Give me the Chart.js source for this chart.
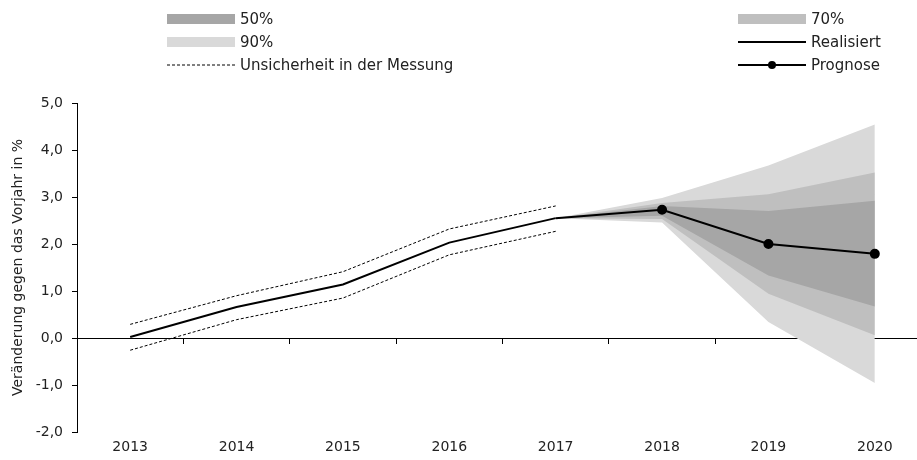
<!DOCTYPE html>
<html>
<head>
<meta charset="utf-8">
<script src="https://cdn.jsdelivr.net/npm/chart.js@4.4.1/dist/chart.umd.min.js"></script>
<style>
  html, body { margin: 0; padding: 0; overflow: hidden; background: #fff; }
  #wrap { position: relative; width: 934px; height: 460px; }
  #legend { position: absolute; left: 0; top: 0; width: 917px; height: 80px;
            font: 15px "DejaVu Sans", sans-serif; color: #222; }
  .item { position: absolute; display: flex; align-items: center; height: 20px; white-space: nowrap; }
  .item svg { margin-right: 5px; display: block; }
</style>
</head>
<body>
<div id="wrap">
  <canvas id="chart"></canvas>
  <div id="legend"></div>
</div>
<script>
const years = ['2013', '2014', '2015', '2016', '2017', '2018', '2019', '2020'];

// realised growth and measurement uncertainty
const realisiert   = [0.02, 0.66, 1.14, 2.03, 2.55, null, null, null];
const messungOben  = [0.29, 0.90, 1.41, 2.32, 2.81, null, null, null];
const messungUnten = [-0.26, 0.39, 0.85, 1.77, 2.27, null, null, null];

// forecast and fan bands
const prognose    = [null, null, null, null, 2.55, 2.73, 2.00, 1.79];
const band50Oben  = [null, null, null, null, 2.55, 2.81, 2.70, 2.92];
const band50Unten = [null, null, null, null, 2.55, 2.60, 1.33, 0.67];
const band70Oben  = [null, null, null, null, 2.55, 2.87, 3.06, 3.52];
const band70Unten = [null, null, null, null, 2.55, 2.53, 0.94, 0.06];
const band90Oben  = [null, null, null, null, 2.55, 2.98, 3.67, 4.54];
const band90Unten = [null, null, null, null, 2.55, 2.46, 0.34, -0.96];

const yTicks = [-2, -1, 0, 1, 2, 3, 4, 5];

const legendOrder = ['50%', '70%', '90%', 'Realisiert', 'Unsicherheit in der Messung', 'Prognose'];

const FONT = '"DejaVu Sans", sans-serif';
const INK = '#222';

function band(label, data, color, fill) {
  return {
    label: label, data: data, backgroundColor: color, borderColor: color,
    borderWidth: 0, pointRadius: 0, fill: fill, tension: 0, isBand: true
  };
}

const datasets = [
  {
    label: 'Prognose', data: prognose, borderColor: '#000', backgroundColor: '#000',
    borderWidth: 2, pointRadius: [0, 0, 0, 0, 0, 4, 4, 4], pointHoverRadius: 4,
    pointBackgroundColor: '#000', fill: false
  },
  {
    label: 'Realisiert', data: realisiert, borderColor: '#000',
    borderWidth: 2, pointRadius: 0, fill: false
  },
  {
    label: 'Unsicherheit in der Messung', data: messungOben, borderColor: '#000',
    borderWidth: 1, borderDash: [3, 2], pointRadius: 0, fill: false
  },
  {
    label: '', data: messungUnten, borderColor: '#000',
    borderWidth: 1, borderDash: [3, 2], pointRadius: 0, fill: false
  },
  band('50%', band50Oben, '#a6a6a6', '+1'),
  band('', band50Unten, '#a6a6a6', false),
  band('70%', band70Oben, '#bfbfbf', '+1'),
  band('', band70Unten, '#bfbfbf', false),
  band('90%', band90Oben, '#d9d9d9', '+1'),
  band('', band90Unten, '#d9d9d9', false)
];

const chart = new Chart(document.getElementById('chart'), {
  type: 'line',
  data: { labels: years, datasets: datasets },
  options: {
    responsive: true,
    maintainAspectRatio: false,
    animation: false,
    layout: { padding: { top: 103, bottom: 0, left: 0, right: 0 } },
    plugins: {
      legend: { display: false },
      tooltip: { enabled: false },
      title: { display: false }
    },
    scales: {
      x: {
        type: 'category',
        offset: true,
        afterFit: s => { s.height = 28; },
        grid: { display: false, drawTicks: false },
        border: { display: false },
        ticks: { color: INK, font: { family: FONT, size: 14 }, padding: 7, maxRotation: 0 }
      },
      xNull: {
        type: 'category',
        axis: 'x',
        labels: years,
        offset: true,
        position: { y: 0 },
        afterFit: s => { s.height = 0; },
        grid: { offset: true, drawOnChartArea: false, drawTicks: true, tickLength: 5, color: '#000', lineWidth: 1 },
        border: { display: true, color: '#000', width: 1 },
        ticks: { display: false }
      },
      y: {
        min: -2,
        max: 5,
        afterBuildTicks: s => { s.ticks = yTicks.map(v => ({ value: v })); },
        afterFit: s => { s.width = 77; },
        grid: { drawOnChartArea: false, drawTicks: true, tickLength: 5, color: '#000' },
        border: { display: true, color: '#000', width: 1 },
        ticks: {
          color: INK, font: { family: FONT, size: 14 }, padding: 9,
          callback: v => v.toFixed(1).replace('.', ',')
        },
        title: {
          display: true, text: 'Veränderung gegen das Vorjahr in %',
          color: INK, font: { family: FONT, size: 14 }, padding: { top: 10, bottom: 0 }
        }
      }
    }
  }
});

// legend in two columns, built from the chart's datasets
const legendSlots = [
  { left: 167, top: 9 }, { left: 738, top: 9 },
  { left: 167, top: 32 }, { left: 738, top: 32 },
  { left: 167, top: 55 }, { left: 738, top: 55 }
];
const legendEl = document.getElementById('legend');
legendOrder.forEach((name, i) => {
  const ds = chart.data.datasets.find(d => d.label === name);
  const slot = legendSlots[i];
  const item = document.createElement('div');
  item.className = 'item';
  item.style.left = slot.left + 'px';
  item.style.top = slot.top + 'px';
  let svg;
  if (ds.isBand) {
    svg = '<svg width="68" height="10"><rect x="0" y="0" width="68" height="10" fill="' + ds.backgroundColor + '"/></svg>';
  } else {
    const dash = ds.borderDash ? ' stroke-dasharray="' + ds.borderDash.join(',') + '"' : '';
    const dot = Array.isArray(ds.pointRadius) && Math.max.apply(null, ds.pointRadius) > 0
      ? '<circle cx="34" cy="5" r="4" fill="#000"/>' : '';
    svg = '<svg width="68" height="10"><line x1="0" y1="5" x2="68" y2="5" stroke="#000" stroke-width="' +
      ds.borderWidth + '"' + dash + '/>' + dot + '</svg>';
  }
  item.innerHTML = svg + '<span>' + name + '</span>';
  legendEl.appendChild(item);
});
</script>
</body>
</html>
